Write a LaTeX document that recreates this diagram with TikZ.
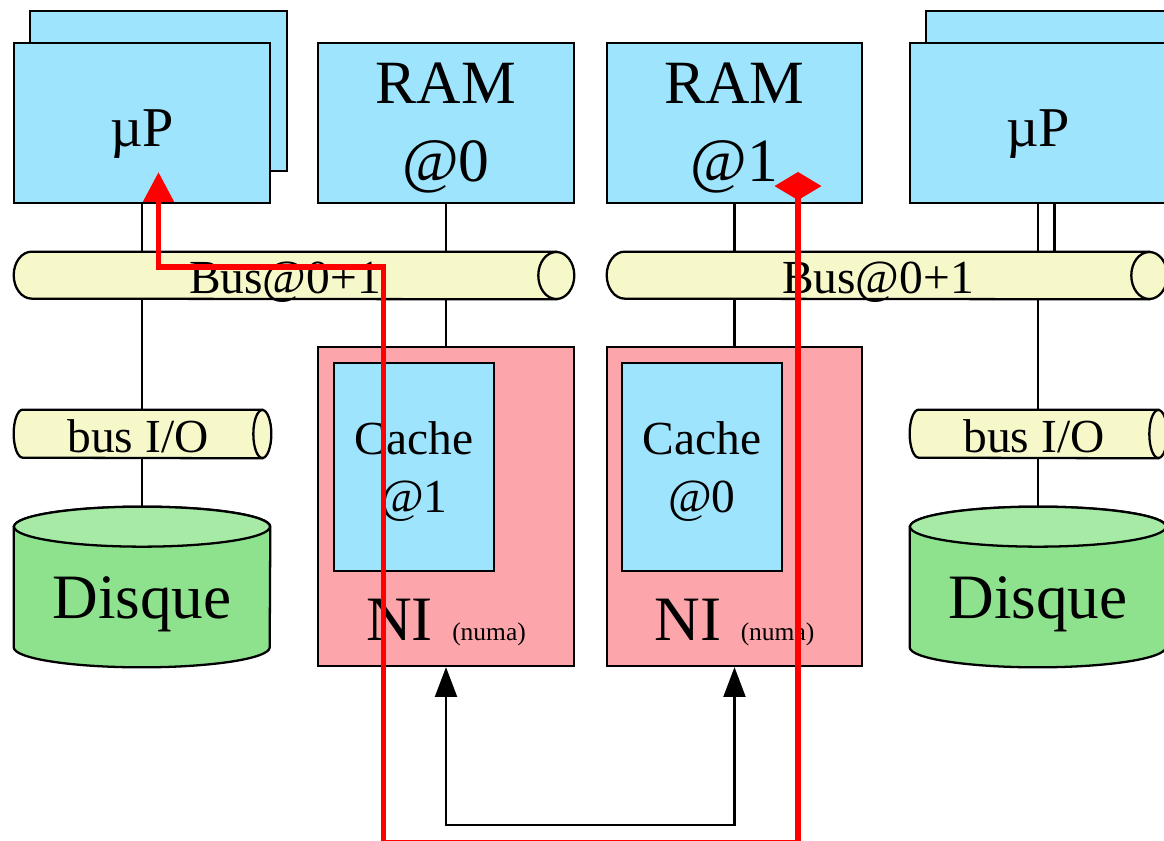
\documentclass[tikz,border=0pt]{standalone}
\usepackage{fontspec}
\setmainfont{Liberation Serif}
\usetikzlibrary{positioning}
\usetikzlibrary{arrows.meta}
\usetikzlibrary{calc}
\usetikzlibrary{backgrounds}

\definecolor{boxblue}{RGB}{158,228,252}
\definecolor{busyellow}{RGB}{246,248,202}
\definecolor{nipink}{RGB}{252,166,172}
\definecolor{diskgreen}{RGB}{142,226,142}
\definecolor{disktop}{RGB}{166,234,166}

\tikzset{
  box/.style={draw, line width=1.3pt, fill=boxblue, inner sep=0pt, align=center,
    minimum width=5.12cm, minimum height=3.2cm},
  cpu/.style={box, font=\fontsize{32}{38}\selectfont, text height=27pt, text depth=0pt},
  ram/.style={box, font=\fontsize{35}{44}\selectfont, text depth=1pt},
  cachebox/.style={box, minimum width=3.2cm, minimum height=4.16cm,
    font=\fontsize{27}{32.5}\selectfont, text depth=0pt},
  nibox/.style={draw, line width=1.3pt, fill=nipink, inner sep=0pt,
    minimum width=5.12cm, minimum height=6.38cm},
  tube/.style={inner sep=0pt, font=\fontsize{27}{32}\selectfont, text height=21pt, text depth=0pt},
  tubefill/.style={draw, line width=1.3pt, fill=busyellow},
  disk/.style={inner sep=0pt, minimum width=5.12cm, minimum height=3.2cm,
    font=\fontsize{36}{40}\selectfont, text height=36pt, text depth=0pt},
  wire/.style={line width=1.3pt},
  redpath/.style={red, line width=3.2pt},
}

\begin{document}
\begin{tikzpicture}[x=0.02cm, y=-0.02cm]
\useasboundingbox (0,0) rectangle (1164,841);
\clip (0,0) rectangle (1164,841);

% processeurs et memoires
\node[box] (uPbA) at (158.5,91) [minimum width=5.14cm] {};
\node[cpu] (uPA) at (142,123) {µP};
\node[ram] (RAM0) at (446,123) {RAM\\@0};
\node[ram, minimum width=5.1cm] (RAM1) at (734.5,123) {RAM\\@1};
\node[box] (uPbB) at (1054.5,91) [minimum width=5.14cm] {};
\node[cpu] (uPB) at (1038,123) {µP};

% bus
\node[tube, minimum width=10.84cm, minimum height=0.94cm] (busA) at (285,275.5) {};
\node[tube, minimum width=10.84cm, minimum height=0.94cm] (busB) at (878,275.5) {};
\node[tube, minimum width=4.96cm, minimum height=0.96cm] (ioA) at (138,434) {};
\node[tube, minimum width=4.96cm, minimum height=0.96cm] (ioB) at (1034,434) {};

\filldraw[tubefill] (busA.north east) -- ($(busA.north west)+(18,0)$)
  arc[start angle=270, end angle=90, x radius=18, y radius=23.5] -- (busA.south east) -- cycle;
\filldraw[tubefill] (busA.east) ellipse[x radius=18, y radius=23.5];
\filldraw[tubefill] (busB.north east) -- ($(busB.north west)+(18,0)$)
  arc[start angle=270, end angle=90, x radius=18, y radius=23.5] -- (busB.south east) -- cycle;
\filldraw[tubefill] (busB.east) ellipse[x radius=18, y radius=23.5];
\filldraw[tubefill] (ioA.north east) -- ($(ioA.north west)+(9,0)$)
  arc[start angle=270, end angle=90, x radius=9, y radius=24] -- (ioA.south east) -- cycle;
\filldraw[tubefill] (ioA.east) ellipse[x radius=9, y radius=24];
\filldraw[tubefill] (ioB.north east) -- ($(ioB.north west)+(9,0)$)
  arc[start angle=270, end angle=90, x radius=9, y radius=24] -- (ioB.south east) -- cycle;
\filldraw[tubefill] (ioB.east) ellipse[x radius=9, y radius=24];
\node[tube] at (busA) {Bus@0+1};
\node[tube] at (busB) {Bus@0+1};
\node[tube] at (ioA) {bus I/O};
\node[tube] at (ioB) {bus I/O};

% NI
\node[nibox] (NI0) at (446,506.5) {};
\node[nibox, minimum width=5.1cm] (NI1) at (734.5,506.5) {};
\node[cachebox] (cacheA) at (414,467) {Cache\\@1};
\node[cachebox] (cacheB) at (702,467) {Cache\\@0};
\node[anchor=base] (niA) at (446,640) {\fontsize{36}{40}\selectfont NI\hspace{11pt}\fontsize{14.5}{16}\selectfont (numa)};
\node[anchor=base] (niB) at (734.5,640) {\fontsize{36}{40}\selectfont NI\hspace{11pt}\fontsize{14.5}{16}\selectfont (numa)};

% disques
\node[disk] (dskA) at (142,587) {};
\node[disk] (dskB) at (1038,587) {};
\filldraw[wire, fill=diskgreen] ($(dskA.north west)+(0,20)$) -- ($(dskA.south west)+(0,-20)$)
  arc[start angle=180, end angle=0, x radius=128, y radius=20]
  -- ($(dskA.north east)+(0,20)$) arc[start angle=0, end angle=-180, x radius=128, y radius=20] -- cycle;
\filldraw[wire, fill=disktop] ($(dskA.north)+(0,20)$) ellipse[x radius=128, y radius=20];
\filldraw[wire, fill=diskgreen] ($(dskB.north west)+(0,20)$) -- ($(dskB.south west)+(0,-20)$)
  arc[start angle=180, end angle=0, x radius=128, y radius=20]
  -- ($(dskB.north east)+(0,20)$) arc[start angle=0, end angle=-180, x radius=128, y radius=20] -- cycle;
\filldraw[wire, fill=disktop] ($(dskB.north)+(0,20)$) ellipse[x radius=128, y radius=20];
\node[disk] at (dskA) {Disque};
\node[disk] at (dskB) {Disque};

% liaisons
\begin{pgfonlayer}{background}
\draw[wire] (uPA.south) -- (uPA.south |- ioA.north);
\draw[wire] (uPbA.south) -- (uPbA.south |- busA.north);
\draw[wire] (ioA.south -| uPA.south) -- (uPA.south |- dskA.north);
\draw[wire] (RAM0.south) -- (NI0.north);
\draw[wire] (RAM1.south) -- (NI1.north);
\draw[wire] (uPB.south) -- (uPB.south |- ioB.north);
\draw[wire] (uPbB.south) -- (uPbB.south |- busB.north);
\draw[wire] (ioB.south -| uPB.south) -- (uPB.south |- dskB.north);
\end{pgfonlayer}

\draw[wire, {Triangle[length=17pt,width=12.5pt]}-{Triangle[length=17pt,width=12.5pt]}]
  (NI0.south) -- ++(0,158) -| (NI1.south);

% chemin rouge
\coordinate (rd) at (798,172);
\draw[redpath, {Triangle[length=17pt,width=17pt]}-{Diamond[length=16pt,width=26.7pt]}]
  (uPbA.south) -- ++(0,95) -| ++(225,576) -| (rd);
\end{tikzpicture}
\end{document}
